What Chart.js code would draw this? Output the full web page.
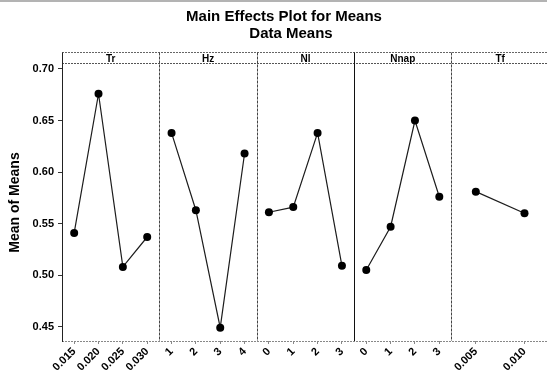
<!DOCTYPE html>
<html>
<head>
<meta charset="utf-8">
<script src="https://cdn.jsdelivr.net/npm/chart.js@4.4.1/dist/chart.umd.min.js"></script>
<style>
  html, body { margin: 0; padding: 0; background: #fff; overflow: hidden; }
  canvas { display: block; }
</style>
</head>
<body>
<canvas id="c" width="547" height="379"></canvas>
<script>
// ---- data ----
const factorNames = ['Tr', 'Hz', 'Nl', 'Nnap', 'Tf'];
const trLevels   = ['0.015', '0.020', '0.025', '0.030'];
const trMeans    = [0.541, 0.676, 0.508, 0.537];
const hzLevels   = ['1', '2', '3', '4'];
const hzMeans    = [0.638, 0.563, 0.449, 0.618];
const nlLevels   = ['0', '1', '2', '3'];
const nlMeans    = [0.561, 0.566, 0.638, 0.509];
const nnapLevels = ['0', '1', '2', '3'];
const nnapMeans  = [0.505, 0.547, 0.650, 0.576];
const tfLevels   = ['0.005', '0.010'];
const tfMeans    = [0.581, 0.560];
const yTickValues = [0.45, 0.50, 0.55, 0.60, 0.65, 0.70];
const titleText = 'Main Effects Plot for Means';
const subtitleText = 'Data Means';
const yAxisTitle = 'Mean of Means';

const levelSets = [trLevels, hzLevels, nlLevels, nnapLevels, tfLevels];
const meanSets  = [trMeans, hzMeans, nlMeans, nnapMeans, tfMeans];

// each factor occupies one unit of the x scale; levels sit at centred slots inside it
const xTickPositions = [];
const xTickLabels = [];
const datasets = meanSets.map((means, p) => {
  const n = means.length;
  const pts = means.map((v, i) => {
    const x = p + (i + 0.5) / n;
    xTickPositions.push(x);
    xTickLabels.push(levelSets[p][i]);
    return { x: x, y: v };
  });
  return {
    label: factorNames[p],
    data: pts,
    borderColor: '#1c1c1c',
    backgroundColor: '#000',
    borderWidth: 1.2,
    pointRadius: 4,
    pointBorderWidth: 0,
    pointBackgroundColor: '#000',
    tension: 0
  };
});

Chart.defaults.font.family = '"Liberation Sans", Arial, sans-serif';
Chart.defaults.color = '#000';

const zeroPad = () => ({ left: 0, top: 0, right: 0, bottom: 0 });

const framePlugin = {
  id: 'frame',
  beforeDatasetsDraw(chart) {
    const ctx = chart.ctx;
    const a = chart.chartArea;
    const xs = chart.scales.x;
    const W = chart.width;
    const stripTop = a.top - 11.5;
    ctx.save();
    // top scan line
    ctx.strokeStyle = '#9a9a9a';
    ctx.lineWidth = 1.5;
    ctx.beginPath(); ctx.moveTo(0, 1); ctx.lineTo(W, 1); ctx.stroke();
    // outer top border & strip bottom
    ctx.lineWidth = 1;
    ctx.strokeStyle = '#666';
    ctx.setLineDash([2, 1]);
    ctx.beginPath(); ctx.moveTo(a.left, stripTop); ctx.lineTo(W, stripTop); ctx.stroke();
    ctx.strokeStyle = '#555';
    ctx.beginPath(); ctx.moveTo(a.left, a.top - 0.5); ctx.lineTo(W, a.top - 0.5); ctx.stroke();
    // bottom border
    ctx.strokeStyle = '#888';
    ctx.beginPath(); ctx.moveTo(a.left, a.bottom + 0.5); ctx.lineTo(W, a.bottom + 0.5); ctx.stroke();
    // panel dividers
    for (let p = 1; p < factorNames.length; p++) {
      const x = Math.round(xs.getPixelForValue(p)) + 0.5;
      if (p === 3) { ctx.setLineDash([]); ctx.strokeStyle = '#111'; }
      else { ctx.setLineDash([3, 1]); ctx.strokeStyle = '#444'; }
      ctx.beginPath(); ctx.moveTo(x, stripTop); ctx.lineTo(x, a.bottom); ctx.stroke();
    }
    // left axis line
    ctx.setLineDash([]);
    ctx.strokeStyle = '#222';
    ctx.beginPath(); ctx.moveTo(a.left + 0.5, stripTop); ctx.lineTo(a.left + 0.5, a.bottom + 1); ctx.stroke();
    // strip labels
    ctx.fillStyle = '#000';
    ctx.font = 'bold 10px "Liberation Sans", Arial, sans-serif';
    ctx.textAlign = 'center';
    ctx.textBaseline = 'alphabetic';
    factorNames.forEach((name, p) => {
      const cx = xs.getPixelForValue(p + 0.5);
      ctx.fillText(name, cx, a.top - 2);
    });
    // titles
    ctx.font = 'bold 15px "Liberation Sans", Arial, sans-serif';
    ctx.fillText(titleText, 284, 21);
    ctx.fillText(subtitleText, 291, 38);
    ctx.restore();
  }
};

new Chart(document.getElementById('c'), {
  type: 'line',
  data: { datasets: datasets },
  plugins: [framePlugin],
  options: {
    responsive: false,
    animation: false,
    devicePixelRatio: 1,
    layout: { padding: { top: 64, right: 0, bottom: 0, left: 0 } },
    plugins: {
      legend: { display: false },
      title: { display: false },
      tooltip: { enabled: false }
    },
    scales: {
      x: {
        type: 'linear',
        min: 0,
        max: 4.94,
        afterBuildTicks: (scale) => { scale.ticks = xTickPositions.map(v => ({ value: v })); },
        afterFit: (scale) => {
          scale.height = 38;
          scale.paddingRight = 0; scale.paddingLeft = 0;
          scale.getPadding = zeroPad;
        },
        ticks: {
          autoSkip: false,
          minRotation: 45,
          maxRotation: 45,
          padding: 1,
          font: { weight: 'bold', size: 11 },
          color: '#000',
          callback: (v, i) => xTickLabels[i]
        },
        grid: { drawOnChartArea: false, drawTicks: true, tickLength: 3, color: '#888' },
        border: { display: false }
      },
      y: {
        type: 'linear',
        min: 0.4361,
        max: 0.70485,
        afterBuildTicks: (scale) => { scale.ticks = yTickValues.map(v => ({ value: v })); },
        afterFit: (scale) => { scale.width = 62; scale.getPadding = zeroPad; },
        ticks: {
          padding: 4,
          font: { weight: 'bold', size: 11 },
          color: '#000',
          callback: (v) => Number(v).toFixed(2)
        },
        grid: { drawOnChartArea: false, drawTicks: true, tickLength: 4, color: '#333' },
        border: { display: false },
        title: {
          display: true,
          text: yAxisTitle,
          font: { weight: 'bold', size: 14 },
          color: '#000',
          padding: { top: 7, bottom: 0 }
        }
      }
    }
  }
});
</script>
</body>
</html>
